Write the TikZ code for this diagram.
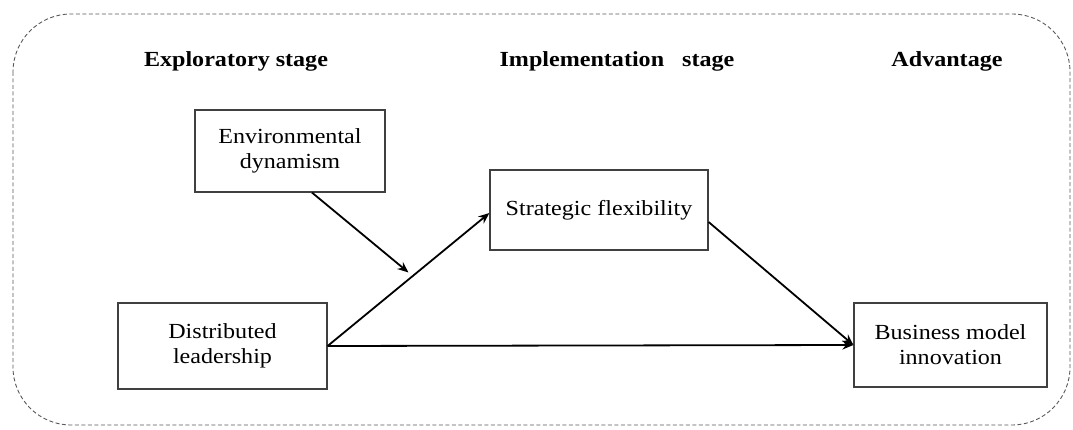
\documentclass[tikz,border=0pt]{standalone}
\usepackage{fontspec}
\setmainfont{Liberation Serif}[FakeStretch=1.12]
\usetikzlibrary{arrows.meta,calc}
\begin{document}
\begin{tikzpicture}[x=1pt,y=-1pt,
  box/.style={draw=black!75,line width=1.2pt,align=center,inner sep=0pt,font=\fontsize{21.5}{25}\selectfont},
  head/.style={font=\fontsize{21.5}{25}\selectfont\bfseries,inner sep=0pt},
  conn/.style={line width=1.8pt,-{Stealth[length=11pt,width=9pt]}}]
\useasboundingbox (0,0) rectangle (1073,430);
\draw[black!65,line width=0.9pt,dash pattern=on 4pt off 2.5pt,rounded corners=58pt] (13,14) rectangle (1070,425);
\node[head] (h1) at (236,61) {Exploratory stage};
\node[head] (h2) at (617,61) {Implementation \ \ stage};
\node[head] (h3) at (947,61) {Advantage};
\node[box,minimum width=190pt,minimum height=82pt] (ED) at (290,151) {Environmental\\dynamism};
\node[box,minimum width=218pt,minimum height=80pt] (SF) at (599,210) {Strategic flexibility};
\node[box,minimum width=209pt,minimum height=86pt] (DL) at (222.5,346) {Distributed\\leadership};
\node[box,minimum width=193pt,minimum height=84pt] (BMI) at (950.5,345) {Business model\\innovation};
\coordinate (sfin) at ([yshift=-3pt]SF.west);
\coordinate (sfout) at ([yshift=-12pt]SF.east);
\coordinate (edout) at ([xshift=22pt]ED.south);
\coordinate (mod) at ($(DL.east)!0.5!(sfin)+(0,-7)$);
\draw[conn] (DL.east) -- (sfin);
\draw[conn] (DL.east) -- (BMI.west);
\draw[conn] (sfout) -- (BMI.west);
\draw[conn] (edout) -- (mod);
\end{tikzpicture}
\end{document}
